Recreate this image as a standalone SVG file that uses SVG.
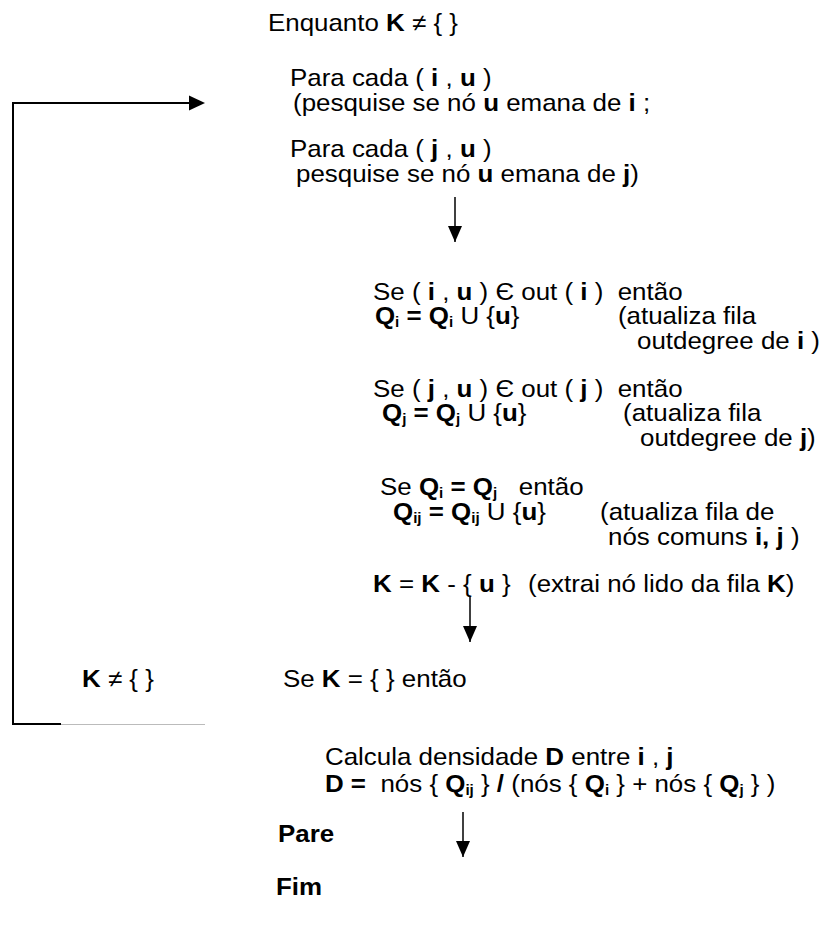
<svg xmlns="http://www.w3.org/2000/svg" width="824" height="941" viewBox="0 0 824 941">
<style>
text{font-family:"Liberation Sans",Arial,sans-serif;font-size:24px;fill:#000;white-space:pre}
.b{font-weight:bold}
.s{font-size:14px;font-weight:bold}
.ln{stroke:#000;stroke-width:1.5;fill:none}
</style>
<defs>
<marker id="ah" markerWidth="16" markerHeight="14" refX="16" refY="7" orient="auto" markerUnits="userSpaceOnUse" viewBox="0 0 16 14"><path d="M0,0 L16,7 L0,14 z" fill="#000"/></marker>
</defs>
<g id="connectors">
<path d="M61,724 L13,724 L13,103 L190,103" stroke="#000" stroke-width="2" fill="none"/>
<path d="M189,95.5 L205,103 L189,110.5 z" fill="#000"/>
<line x1="61" y1="724.5" x2="205" y2="724.5" stroke="#bbb" stroke-width="1"/>
<line class="ln" x1="455" y1="197" x2="455" y2="242" marker-end="url(#ah)"/>
<line class="ln" x1="470" y1="597" x2="470" y2="642" marker-end="url(#ah)"/>
<line class="ln" x1="463" y1="812" x2="463" y2="857" marker-end="url(#ah)"/>
</g>
<g transform="scale(1.08,1)">
<g id="n-enquanto"><text x="248.1" y="31">Enquanto <tspan class="b">K</tspan> ≠ { }</text></g>
<g id="n-para-i"><text x="268.5" y="86">Para cada ( <tspan class="b">i</tspan> , <tspan class="b">u</tspan> )</text><text x="271.3" y="111">(pesquise se nó <tspan class="b">u</tspan> emana de <tspan class="b">i</tspan> ;</text></g>
<g id="n-para-j"><text x="268.5" y="157">Para cada ( <tspan class="b">j</tspan> , <tspan class="b">u</tspan> )</text><text x="274.1" y="182">pesquise se nó <tspan class="b">u</tspan> emana de <tspan class="b">j</tspan>)</text></g>
<g id="n-se-i"><text x="345.4" y="300">Se ( <tspan class="b">i</tspan> , <tspan class="b">u</tspan> ) Є out ( <tspan class="b">i</tspan> )  então</text><text x="347.2" y="324"><tspan class="b">Q</tspan><tspan class="s" dy="3">i</tspan><tspan class="b" dy="-3"> = Q</tspan><tspan class="s" dy="3">i</tspan><tspan dy="-3"> U {</tspan><tspan class="b">u</tspan>}</text><text x="572.2" y="324">(atualiza fila</text><text x="589.8" y="349">outdegree de <tspan class="b">i</tspan> )</text></g>
<g id="n-se-j"><text x="345.4" y="397">Se ( <tspan class="b">j</tspan> , <tspan class="b">u</tspan> ) Є out ( <tspan class="b">j</tspan> )  então</text><text x="353.7" y="421"><tspan class="b">Q</tspan><tspan class="s" dy="3">j</tspan><tspan class="b" dy="-3"> = Q</tspan><tspan class="s" dy="3">j</tspan><tspan dy="-3"> U {</tspan><tspan class="b">u</tspan>}</text><text x="576.9" y="421">(atualiza fila</text><text x="592.6" y="446">outdegree de <tspan class="b">j</tspan>)</text></g>
<g id="n-se-qij"><text x="351.9" y="495">Se <tspan class="b">Q</tspan><tspan class="s" dy="3">i</tspan><tspan class="b" dy="-3"> = Q</tspan><tspan class="s" dy="3">j</tspan><tspan dy="-3">   então</tspan></text><text x="363.9" y="520"><tspan class="b">Q</tspan><tspan class="s" dy="3">ij</tspan><tspan class="b" dy="-3"> = Q</tspan><tspan class="s" dy="3">ij</tspan><tspan dy="-3"> U {</tspan><tspan class="b">u</tspan>}</text><text x="555.6" y="520">(atualiza fila de</text><text x="563" y="545">nós comuns <tspan class="b">i, j</tspan> )</text></g>
<g id="n-k"><text x="345.4" y="592"><tspan class="b">K</tspan> = <tspan class="b">K</tspan> - { <tspan class="b">u</tspan> }</text><text x="488.9" y="592">(extrai nó lido da fila <tspan class="b">K</tspan>)</text></g>
<g id="n-kne"><text x="75.9" y="687"><tspan class="b">K</tspan> ≠ { }</text></g>
<g id="n-sek"><text x="262" y="687">Se <tspan class="b">K</tspan> = { } então</text></g>
<g id="n-calc"><text x="300.9" y="765">Calcula densidade <tspan class="b">D</tspan> entre <tspan class="b">i</tspan> , <tspan class="b">j</tspan></text><text x="300.9" y="792"><tspan class="b">D =</tspan>  nós { <tspan class="b">Q</tspan><tspan class="s" dy="3">ij</tspan><tspan dy="-3"> } </tspan><tspan class="b">/</tspan> (nós { <tspan class="b">Q</tspan><tspan class="s" dy="3">i</tspan><tspan dy="-3"> } + nós { </tspan><tspan class="b">Q</tspan><tspan class="s" dy="3">j</tspan><tspan dy="-3"> } )</tspan></text></g>
<g id="n-pare"><text x="257.4" y="842" class="b">Pare</text></g>
<g id="n-fim"><text x="255.5" y="895" class="b">Fim</text></g>
</g>
</svg>
